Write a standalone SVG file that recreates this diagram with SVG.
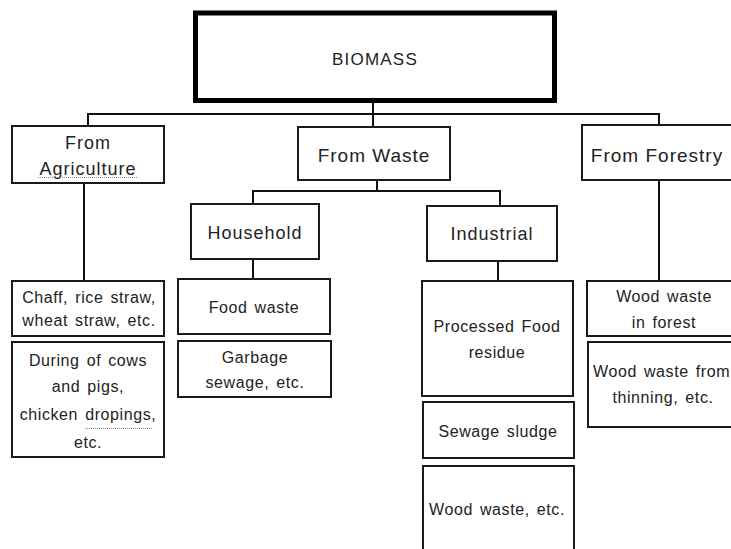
<svg xmlns="http://www.w3.org/2000/svg" width="731" height="549" viewBox="0 0 731 549">
<style>
  .box { fill: #ffffff; stroke: #1a1a1a; stroke-width: 2; }
  .main { fill: #ffffff; stroke: #000000; stroke-width: 5; }
  .conn { fill: none; stroke: #111111; stroke-width: 2; }
  .t { font-family: "Liberation Sans", Arial, sans-serif; fill: #222222; text-anchor: middle; }
  .s { font-size: 16px; letter-spacing: 0.6px; word-spacing: 2px; }
  .m { font-size: 18px; letter-spacing: 1px; }
  .l { font-size: 19px; letter-spacing: 1px; }
  .sq { stroke: #8a8a8a; stroke-width: 1; stroke-dasharray: 1 1; fill: none; }
</style>
<rect width="731" height="549" fill="#ffffff"/>
<g id="connectors">
  <path class="conn" d="M373 100 V126"/>
  <path class="conn" d="M88 126 V114 H659 V125"/>
  <path class="conn" d="M84 183 V281"/>
  <path class="conn" d="M659 180 V281"/>
  <path class="conn" d="M377 180 V191"/>
  <path class="conn" d="M253 204 V191 H500 V206"/>
  <path class="conn" d="M253 259 V279"/>
  <path class="conn" d="M498 261 V281"/>
</g>
<g id="biomass">
  <rect class="main" x="195.5" y="13" width="359" height="87.5"/>
  <text class="t" x="375" y="65" font-size="17" letter-spacing="1.2" fill="#000">BIOMASS</text>
</g>
<g id="from-agriculture">
  <rect class="box" x="12" y="126" width="152" height="57"/>
  <text class="t m" x="88" y="149">From</text>
  <text class="t m" x="88" y="175">Agriculture</text>
  <line class="sq" x1="38" y1="177.5" x2="138" y2="177.5"/>
</g>
<g id="from-waste">
  <rect class="box" x="298" y="127" width="152" height="53"/>
  <text class="t l" x="374" y="162">From Waste</text>
</g>
<g id="from-forestry">
  <rect class="box" x="582" y="125" width="160" height="55"/>
  <text class="t l" x="657" y="162">From Forestry</text>
</g>
<g id="household">
  <rect class="box" x="191" y="204" width="128" height="55"/>
  <text class="t m" x="255" y="239">Household</text>
</g>
<g id="industrial">
  <rect class="box" x="427" y="206" width="130" height="55"/>
  <text class="t m" x="492" y="240">Industrial</text>
</g>
<g id="chaff">
  <rect class="box" x="12" y="281" width="152" height="55"/>
  <text class="t s" x="89" y="303">Chaff, rice straw,</text>
  <text class="t s" x="89" y="326">wheat straw, etc.</text>
</g>
<g id="during">
  <rect class="box" x="12" y="342" width="152" height="115"/>
  <text class="t s" x="88" y="366">During of cows</text>
  <text class="t s" x="88" y="392">and pigs,</text>
  <text class="t s" x="88" y="420">chicken dropings,</text>
  <line class="sq" x1="85" y1="428.5" x2="152" y2="428.5"/>
  <text class="t s" x="88" y="448">etc.</text>
</g>
<g id="food-waste">
  <rect class="box" x="178" y="279" width="152" height="55"/>
  <text class="t s" x="254" y="313">Food waste</text>
</g>
<g id="garbage">
  <rect class="box" x="178" y="341" width="153" height="56"/>
  <text class="t s" x="255" y="363">Garbage</text>
  <text class="t s" x="255" y="388">sewage, etc.</text>
</g>
<g id="processed-food">
  <rect class="box" x="422" y="281" width="151" height="115"/>
  <text class="t s" x="497" y="332">Processed Food</text>
  <text class="t s" x="497" y="358">residue</text>
</g>
<g id="sewage-sludge">
  <rect class="box" x="423" y="402" width="151" height="56"/>
  <text class="t s" x="498" y="437">Sewage sludge</text>
</g>
<g id="wood-waste-etc">
  <rect class="box" x="423" y="466" width="151" height="100"/>
  <text class="t s" x="497" y="515">Wood waste, etc.</text>
</g>
<g id="wood-waste-forest">
  <rect class="box" x="587" y="281" width="160" height="55"/>
  <text class="t s" x="664" y="302">Wood waste</text>
  <text class="t s" x="664" y="328">in forest</text>
</g>
<g id="wood-waste-thinning">
  <rect class="box" x="588" y="342" width="160" height="85"/>
  <text class="t s" x="593" y="377" text-anchor="start" style="text-anchor:start" word-spacing="4">Wood waste from</text>
  <text class="t s" x="663" y="403">thinning, etc.</text>
</g>
</svg>
